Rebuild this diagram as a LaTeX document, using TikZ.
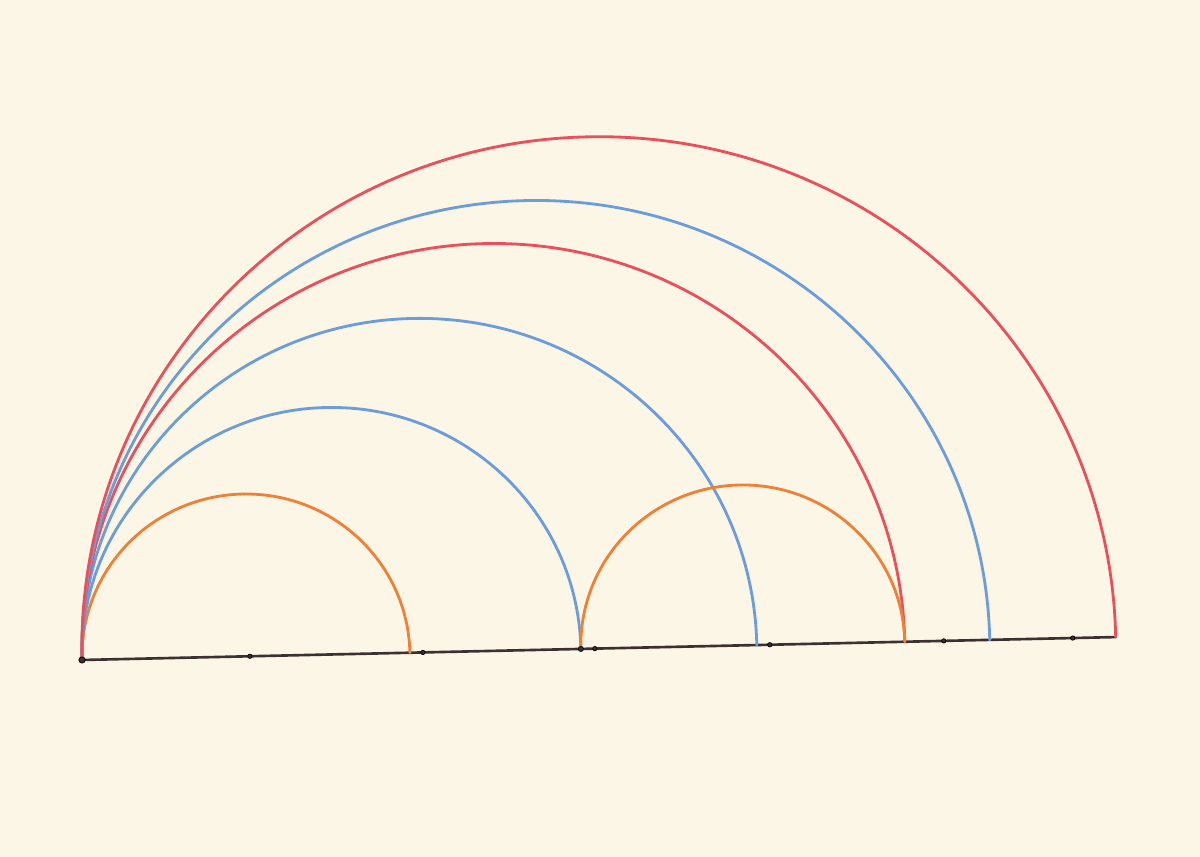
\documentclass[tikz,border=0pt]{standalone}
\usetikzlibrary{calc}
\definecolor{paper}{RGB}{251,246,229}
\definecolor{penred}{RGB}{234,80,92}
\definecolor{penblue}{RGB}{108,156,218}
\definecolor{penorange}{RGB}{240,128,56}
\definecolor{penink}{RGB}{62,48,50}

\begin{document}
\begin{tikzpicture}[line cap=round,line join=round,x=0.02cm,y=0.02cm,
    arcline/.style={line width=1.6pt},
    baseline/.style={line width=1.5pt,color=penink},
    tick/.style={fill=penink}]
		\fill[paper] (0,0) rectangle (1200,857);
		\useasboundingbox (0,0) rectangle (1200,857);
		\begin{scope}[shift={(82,197)},rotate=1.27,yscale=0.99]
			\draw [baseline] (0,0)-- (1034,0);
			% arcs from the left end
			\draw [arcline,color=penorange] (328,0) arc (0:180:164);
			\draw [arcline,color=penblue] (499,0) arc (0:180:249.5);
			\draw [arcline,color=penblue] (675,0) arc (0:180:337.5);
			\draw [arcline,color=penred] (823,0) arc (0:180:411.5);
			\draw [arcline,color=penblue] (908,0) arc (0:180:454);
			\draw [arcline,color=penred] (1034,0) arc (0:180:517);
			% arc from the middle
			\draw [arcline,color=penorange] (823,0) arc (0:180:162);
			\foreach \d in {168,341,513,688,862,991}
				\draw [tick] (\d,0) circle (2.2);
			\draw [tick] (0,0) circle (3.2);
			\draw [tick] (499,0) circle (2.6);
		\end{scope}
	\end{tikzpicture}
\end{document}
